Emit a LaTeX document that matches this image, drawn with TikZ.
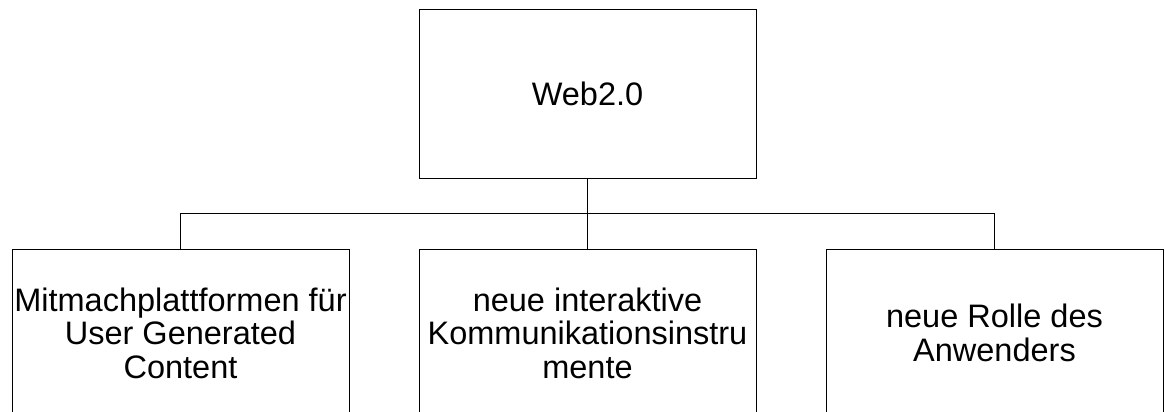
\documentclass[tikz,border=0pt]{standalone}
\usepackage{fontspec}
\setmainfont{Liberation Sans}
\usetikzlibrary{trees}
\begin{document}
\begin{tikzpicture}[x=1pt,y=1pt,line width=1pt,
				every node/.style={draw,minimum width=337pt,minimum height=168pt,inner sep=1pt,align=center,font=\fontsize{32.5}{33.5}\selectfont},
				level 1/.style={sibling distance=407pt,level distance=239pt},
				edge from parent fork down]
\useasboundingbox (0,0) rectangle (1165,-412);
\clip (0,0) rectangle (1165,-412);
\node (web) at (587.5,-94) {Web2.0}
	child { node (user) {Mitmachplattformen für\\User Generated\\Content} }
	child { node (komm) {neue interaktive\\Kommunikationsinstru\\mente} }
	child { node (rolle) {neue Rolle des\\Anwenders} };
\end{tikzpicture}
\end{document}
